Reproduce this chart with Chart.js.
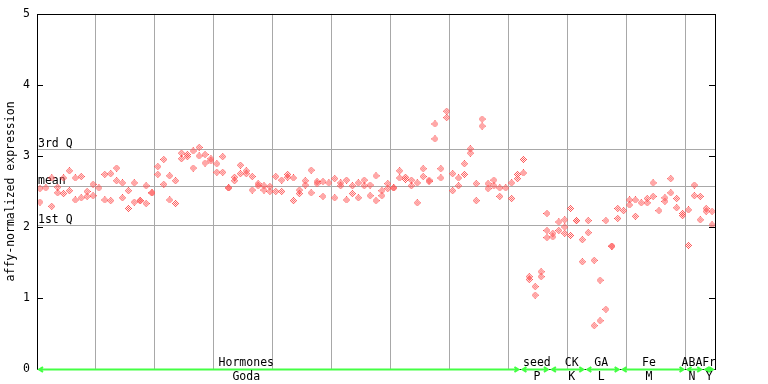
<!DOCTYPE html>
<html><head><meta charset="utf-8">
<script src="https://cdn.jsdelivr.net/npm/chart.js@4"></script>
<style>html,body{margin:0;padding:0;background:#fff}#wrap{width:768px;height:384px}</style>
</head><body><div id="wrap"><canvas id="c" width="768" height="384"></canvas></div>
<script>
// replicate values per sample (index = sample)
const rep1 = [2.54,2.55,2.69,2.56,2.69,2.79,2.69,2.71,2.50,2.60,
  2.55,2.74,2.75,2.83,2.62,2.51,2.62,2.37,2.58,2.48,
  2.85,2.95,2.72,2.65,3.04,3.02,3.07,3.12,3.02,2.96,
  2.89,2.99,2.55,2.70,2.87,2.79,2.71,2.61,2.58,2.57,
  2.71,2.66,2.74,2.69,2.52,2.65,2.80,2.64,2.64,2.62,
  2.68,2.62,2.66,2.58,2.62,2.66,2.59,2.72,2.51,2.61,
  2.55,2.79,2.70,2.66,2.62,2.82,2.66,3.45,2.82,3.63,
  2.75,2.69,2.89,3.10,2.61,3.52,2.61,2.66,2.55,2.55,
  2.62,2.74,2.95,1.30,1.16,1.37,2.19,1.91,2.07,2.10,
  2.26,2.09,1.82,2.09,1.53,1.25,2.09,1.73,2.26,2.23,
  2.38,2.38,2.34,2.40,2.62,2.23,2.41,2.68,2.40,2.19,
  2.24,2.59,2.43,2.26,2.22];
const rep2 = [2.35,null,2.29,2.48,2.47,2.51,2.38,2.41,2.43,2.44,
  null,2.38,2.37,2.65,2.41,2.26,2.35,2.37,2.33,2.48,
  2.74,2.60,2.38,2.33,2.96,2.99,2.83,3.00,2.90,2.93,
  2.77,2.77,2.55,2.65,2.75,2.75,2.52,2.58,2.52,2.50,
  2.50,2.50,2.70,2.37,2.47,2.59,2.48,2.61,2.43,null,
  2.41,2.58,2.38,2.47,2.41,2.58,2.44,2.37,2.44,2.54,
  2.55,2.69,2.67,2.58,2.34,2.71,2.64,3.24,2.69,3.54,
  2.51,2.58,2.74,3.04,2.37,3.42,2.54,2.58,2.43,null,
  2.40,2.68,2.76,1.26,1.04,1.30,1.95,1.86,1.95,2.00,
  1.88,2.09,1.51,1.92,0.61,0.68,0.84,1.73,2.12,null,
  2.31,2.15,null,2.34,2.43,null,2.36,2.48,2.27,2.16,
  1.74,2.44,2.10,2.22,2.03];
const rep3Samples = [86, 89];
const rep3Values = [1.85, 1.91];

const groupTop = ['Hormones','seed','CK','GA','Fe','ABA','Fr'];
const groupBottom = ['Goda','P','K','L','M','N','Y'];
const groupStart = [0,82,87,93,99,110,113];
const groupEnd = [81,86,92,98,109,112,114];
const groupLabelAt = [35,84.3,90.2,95.2,103.3,110.6,113.5];
const quartileValues = [3.10, 2.58, 2.03];
const quartileLabels = ['3rd Q','mean','1st Q'];
const yTicks = [0,1,2,3,4,5];
const xGrid = [9.5,19.5,29.5,39.5,49.5,59.5,69.5,79.5,89.5,99.5,109.5];

const FONT = '11.5px "DejaVu Sans Mono", monospace';
const RED = 'rgb(255,80,80)';

function diamond(color){
  const c = document.createElement('canvas'); c.width = 7; c.height = 7;
  const g = c.getContext('2d'); g.fillStyle = color;
  for (let dy=-3; dy<=3; dy++) for (let dx=-3; dx<=3; dx++) {
    if (Math.abs(dx)+Math.abs(dy) <= 3 && ((dx+dy)&1)) g.fillRect(dx+3, dy+3, 1, 1);
  }
  return c;
}
const redPt = diamond(RED);

function pts(arr){ const o=[]; arr.forEach((v,i)=>{ if(v!==null) o.push({x:i,y:v}); }); return o; }
const d3 = rep3Samples.map((s,k)=>({x:s,y:rep3Values[k]}));

const overlay = {
  id:'overlay',
  beforeDatasetsDraw(chart){
    const ctx=chart.ctx, a=chart.chartArea, y=chart.scales.y;
    ctx.save();
    ctx.strokeStyle='#a8a8a8'; ctx.lineWidth=1;
    ctx.font=FONT; ctx.fillStyle='#000'; ctx.textAlign='left'; ctx.textBaseline='alphabetic';
    quartileValues.forEach((q,k)=>{
      const py=Math.round(y.getPixelForValue(q))+0.5;
      ctx.beginPath(); ctx.moveTo(a.left,py); ctx.lineTo(a.right,py); ctx.stroke();
      ctx.fillText(quartileLabels[k], a.left+1, py-3);
    });
    ctx.restore();
  },
  afterDraw(chart){
    const ctx=chart.ctx, a=chart.chartArea, x=chart.scales.x, y=chart.scales.y;
    ctx.save();
    ctx.strokeStyle='#000'; ctx.lineWidth=1;
    ctx.strokeRect(Math.round(a.left)+0.5, Math.round(a.top)+0.5, Math.round(a.right-a.left), Math.round(a.bottom-a.top));
    yTicks.forEach(t=>{
      if(t===0||t===5) return;
      const py=Math.round(y.getPixelForValue(t))+0.5;
      ctx.beginPath(); ctx.moveTo(a.left,py); ctx.lineTo(a.left+6,py);
      ctx.moveTo(a.right,py); ctx.lineTo(a.right-6,py); ctx.stroke();
    });
    // group arrows
    const by = Math.round(a.bottom)+0.5;
    ctx.strokeStyle='#44ff44'; ctx.lineWidth=2;
    groupStart.forEach((s,k)=>{
      const x0=x.getPixelForValue(s-0.5)+2, x1=x.getPixelForValue(groupEnd[k]+0.5)-2;
      ctx.beginPath(); ctx.moveTo(x0,by); ctx.lineTo(x1,by);
      ctx.moveTo(x0+4,by-2.5); ctx.lineTo(x0,by); ctx.lineTo(x0+4,by+2.5);
      ctx.moveTo(x1-4,by-2.5); ctx.lineTo(x1,by); ctx.lineTo(x1-4,by+2.5);
      ctx.stroke();
    });
    ctx.font=FONT; ctx.fillStyle='#000'; ctx.textAlign='center'; ctx.textBaseline='middle';
    groupTop.forEach((t,k)=>{
      const px=x.getPixelForValue(groupLabelAt[k]);
      ctx.fillText(t, px, a.bottom-6);
      ctx.fillText(groupBottom[k], px, a.bottom+8);
    });
    ctx.restore();
  }
};

new Chart(document.getElementById('c'), {
  type:'scatter',
  data:{datasets:[
    {data:pts(rep1), pointStyle:redPt, pointRadius:3, backgroundColor:RED, borderColor:RED},
    {data:pts(rep2), pointStyle:redPt, pointRadius:3, backgroundColor:RED, borderColor:RED},
    {data:d3, pointStyle:redPt, pointRadius:3, backgroundColor:RED, borderColor:RED}
  ]},
  options:{
    responsive:false, animation:false, devicePixelRatio:1,
    layout:{padding:{top:13,right:53,left:0,bottom:0}},
    plugins:{legend:{display:false}, tooltip:{enabled:false}},
    scales:{
      x:{type:'linear', min:-0.5, max:114.5,
        afterBuildTicks(s){ s.ticks = xGrid.map(v=>({value:v})); },
        afterFit(s){ s.height=15; },
        ticks:{display:false},
        grid:{color:'#a8a8a8', drawTicks:false},
        border:{display:false}
      },
      y:{min:0, max:5,
        afterBuildTicks(s){ s.ticks = yTicks.map(v=>({value:v})); },
        afterFit(s){ s.width=37; },
        ticks:{color:'#000', font:{family:'"DejaVu Sans Mono", monospace', size:11.5}, padding:7},
        grid:{display:false, drawTicks:false},
        border:{display:false},
        title:{display:true, text:'affy-normalized expression', color:'#000',
          font:{family:'"DejaVu Sans Mono", monospace', size:11.5}, padding:{top:4,bottom:0}}
      }
    }
  },
  plugins:[overlay]
});
</script></body></html>
